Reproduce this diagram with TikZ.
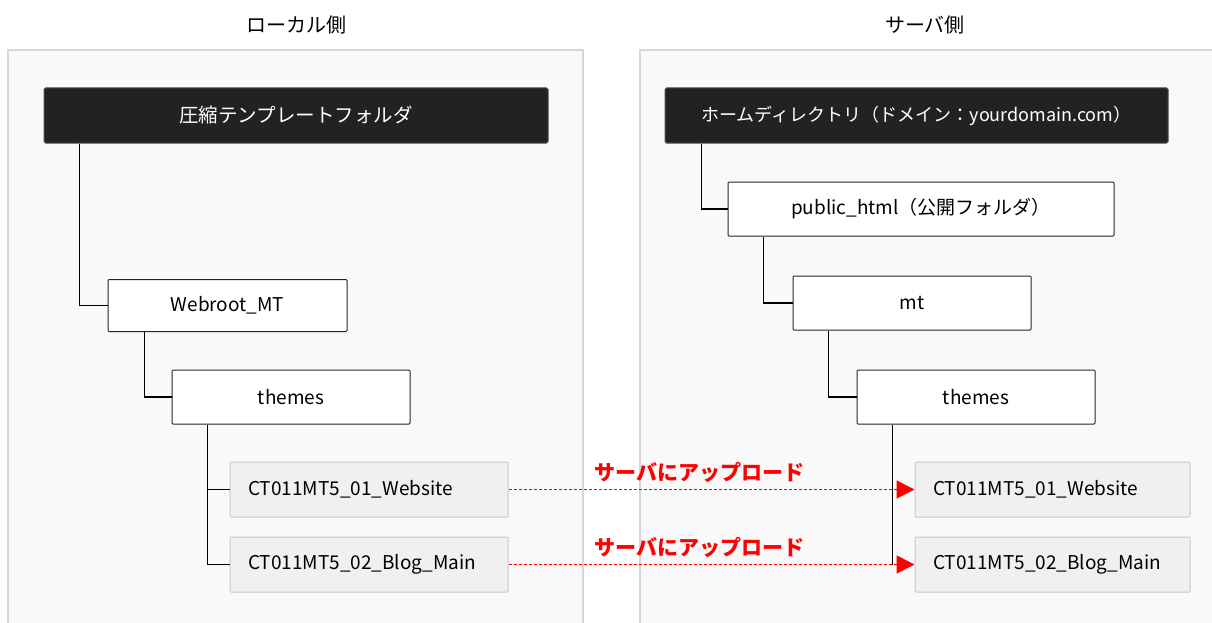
\documentclass[tikz,border=0pt]{standalone}
\usepackage{fontspec}
\setmainfont{Noto Sans CJK JP}
\usetikzlibrary{arrows.meta}
\definecolor{panelfill}{HTML}{F9F9F9}
\definecolor{panelline}{HTML}{D6D6D6}
\definecolor{rootfill}{HTML}{222222}
\definecolor{itemfill}{HTML}{F0F0F0}
\definecolor{itemline}{HTML}{C8C8C8}
\begin{document}
\begin{tikzpicture}[x=1pt,y=-1pt,
    panel/.style={draw=panelline,line width=1.5pt},
    side/.style={font=\fontsize{20}{20}\selectfont},
    rootbox/.style={draw=black!70,fill=rootfill,text=white,rounded corners=1.5pt,line width=1pt,
        minimum height=55pt,inner sep=0pt,font=\fontsize{19.5}{19.5}\selectfont},
    dirbox/.style={draw=black!85,fill=white,rounded corners=1pt,line width=1pt,
        minimum height=54pt,inner sep=0pt,font=\fontsize{19}{19}\selectfont},
    themebox/.style={draw=itemline,fill=itemfill,rounded corners=1pt,line width=1pt,
        minimum height=55pt,inner xsep=18pt,inner ysep=0pt,align=left,
        font=\fontsize{19}{19}\selectfont},
    tree/.style={line width=1.3pt,black},
    upload/.style={red,line width=1.8pt,dash pattern=on 3pt off 2pt,
        -{Triangle[length=18pt,width=18pt]}},
    uplabel/.style={red,font=\bfseries\fontsize{21}{21}\selectfont}]
  \useasboundingbox (0,0) rectangle (1212,623);
  \fill[white] (0,0) rectangle (1212,623);
  \fill[panelfill] (8,50) rectangle (583,630);
  \fill[panelfill] (640,50) rectangle (1220,630);
  \draw[panel] (8,630) -- (8,50) -- (583,50) -- (583,630);
  \draw[panel] (640,630) -- (640,50) -- (1220,50);
  \node[side] (localtitle) at (296,25) {ローカル側};
  \node[side] (servertitle) at (925,25) {サーバ側};

  \node[rootbox,minimum width=504pt] (lroot) at (296,115.5) {圧縮テンプレートフォルダ};
  \node[dirbox,minimum width=239pt,minimum height=52pt] (webroot) at (227.5,305.5) {Webroot\_MT};
  \node[dirbox,minimum width=238pt] (lthemes) at (291,397) {themes};
  \node[themebox,text width=242pt] (lweb) at (369,489.5) {CT011MT5\_01\_Website};
  \node[themebox,text width=242pt] (lblog) at (369,564.5) {CT011MT5\_02\_Blog\_Main};

  \node[rootbox,minimum width=503pt,font=\fontsize{18}{18}\selectfont] (rroot) at (916.5,115.5) {ホームディレクトリ（ドメイン：yourdomain.com）};
  \node[dirbox,minimum width=386pt] (pub) at (921,209) {public\_html（公開フォルダ）};
  \node[dirbox,minimum width=238pt] (mt) at (912,303) {mt};
  \node[dirbox,minimum width=238pt] (rthemes) at (976,397) {themes};
  \node[themebox,text width=239pt] (rweb) at (1052.5,489.5) {CT011MT5\_01\_Website};
  \node[themebox,text width=239pt] (rblog) at (1052.5,564.5) {CT011MT5\_02\_Blog\_Main};

  \draw[tree] ([xshift=36pt]lroot.south west) |- (webroot.west);
  \draw[tree] ([xshift=37pt]webroot.south west) |- (lthemes.west);
  \draw[tree] ([xshift=36pt]lthemes.south west) |- (lweb.west);
  \draw[tree] ([xshift=36pt]lthemes.south west) |- (lblog.west);
  \draw[tree] ([xshift=37pt]rroot.south west) |- (pub.west);
  \draw[tree] ([xshift=36pt]pub.south west) |- (mt.west);
  \draw[tree] ([xshift=36pt]mt.south west) |- (rthemes.west);
  \coordinate (rtrunk) at ([xshift=36pt]rthemes.south west);
  \draw[tree] (rtrunk) -- (rtrunk |- rblog.west);

  \draw[upload] (lweb.east) -- (rweb.west) node[uplabel,pos=0.47,above=3pt] (up1) {サーバにアップロード};
  \draw[upload] (lblog.east) -- (rblog.west) node[uplabel,pos=0.47,above=3pt] (up2) {サーバにアップロード};
\end{tikzpicture}
\end{document}
